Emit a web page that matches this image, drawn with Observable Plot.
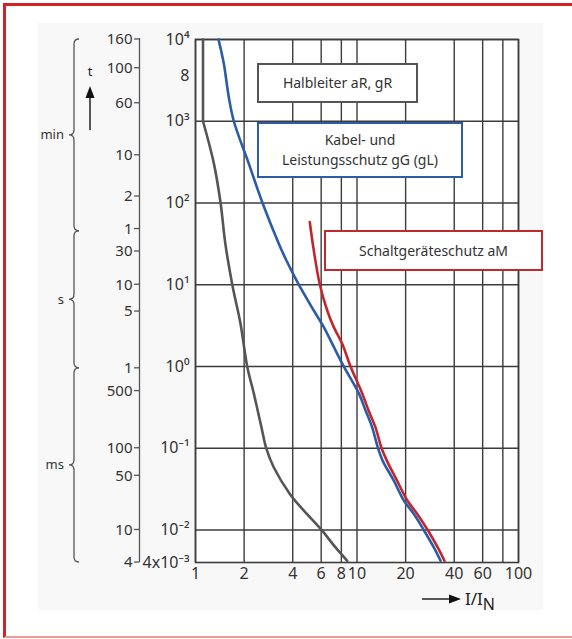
<!DOCTYPE html>
<html><head><meta charset="utf-8">
<script src="https://cdn.jsdelivr.net/npm/d3@7"></script>
<script src="https://cdn.jsdelivr.net/npm/@observablehq/plot@0.6"></script>
<style>
body{margin:0;background:#fff;font-family:"Noto Sans",sans-serif;}
#wrap{position:relative;width:572px;height:639px;overflow:hidden;background:#fff;}
#bg{position:absolute;left:38px;top:23px;width:505px;height:587px;background:#f8f8f8;}
#chart{position:absolute;left:0;top:0;}
#frame{position:absolute;left:3px;top:3px;width:620px;height:635px;border-left:3px solid #d2232a;border-top:3px solid #d2232a;border-bottom:2px solid #f29a9a;box-sizing:border-box;pointer-events:none;}
.box{position:absolute;background:#fff;box-sizing:border-box;display:flex;align-items:center;justify-content:center;text-align:center;font-size:14px;color:#333;line-height:20px;font-family:"Noto Sans",sans-serif;}
</style></head>
<body><div id="wrap"><div id="bg"></div><div id="chart"></div>
<div class="box" style="left:257px;top:63px;width:161px;height:40px;border:2.6px solid #555;">Halbleiter aR, gR</div>
<div class="box" style="left:257px;top:122px;width:206px;height:56px;border:2.6px solid #2b5ca8;">Kabel- und<br>Leistungsschutz gG (gL)</div>
<div class="box" style="left:324px;top:230px;width:219px;height:41px;border:2.6px solid #c1272d;">Schaltgeräteschutz aM</div>
<div id="frame"></div></div>
<script>
// Halbleiter aR, gR (grey): vertical part, then the sloped part
const grayTopX = [1.113, 1.113];
const grayTopT = [1e4, 1e3];
const grayX = [1.113, 1.30, 1.43, 1.53, 1.69, 1.90, 2.09, 2.30, 2.56, 2.74, 3.05, 3.84, 4.69, 6.03, 7.36, 8.70];
const grayT = [1e3, 303, 100, 31.8, 10, 3.33, 1, 0.462, 0.181, 0.1, 0.0585, 0.0276, 0.0172, 0.01, 0.00612, 0.0042];
// Kabel- und Leistungsschutz gG (gL) (blue)
const blueX = [1.388, 1.497, 1.607, 1.727, 2.138, 2.60, 3.28, 3.65, 4.36, 5.40, 6.23, 7.02, 8.28, 10.3, 11.3, 12.4, 13.5, 14.4, 16.9, 19.5, 22.5, 25.9, 29.9, 32.9];
const blueT = [1e4, 5080, 1982, 1e3, 303, 100, 31.8, 19.9, 10, 4.84, 3.03, 1.90, 1, 0.462, 0.289, 0.181, 0.1, 0.0706, 0.0402, 0.0229, 0.0157, 0.01, 0.00612, 0.0042];
// Schaltgeräteschutz aM (red)
const redX = [5.10, 5.40, 5.89, 6.54, 7.18, 8.10, 9.12, 10.8, 11.8, 13.0, 14.2, 15.3, 17.7, 20.5, 23.6, 27.4, 31.6, 34.8];
const redT = [58.5, 26.3, 10, 4.84, 3.03, 1.90, 1, 0.462, 0.289, 0.181, 0.1, 0.0706, 0.0402, 0.0229, 0.0157, 0.01, 0.00612, 0.0042];

// axes
const xTicks = [1, 2, 4, 6, 8, 10, 20, 40, 60, 100];
const xGrid = [1, 2, 4, 6, 8, 10, 20, 40, 60, 80, 100];
const yGrid = [1e4, 1e3, 1e2, 1e1, 1, 0.1, 0.01];
const yTicks = [1e4, 3600, 1e3, 1e2, 1e1, 1, 0.1, 0.01, 0.004];
const yTickLabels = ["10⁴", "8", "10³", "10²", "10¹", "10⁰", "10⁻¹", "10⁻²", "4x10⁻³"];
// outer time axis (positions in seconds as printed on the original)
const tTicks = [1e4, 4455, 1660, 383, 120, 48, 25.5, 10, 4.7, 0.95, 0.5, 0.1, 0.046, 0.01, 0.004];
const tTickLabels = ["160", "100", "60", "10", "2", "1", "30", "10", "5", "1", "500", "100", "50", "10", "4"];
const unitNames = ["min", "s", "ms"];
const unitBounds = [[1e4, 45], [45, 0.95], [0.95, 0.004]];

const toRows = (xs, ts, z) => xs.map((x, i) => ({x, t: ts[i], z}));
const yLab = new Map(yTicks.map((v, i) => [v, yTickLabels[i]]));
const tLab = new Map(tTicks.map((v, i) => [v, tTickLabels[i]]));

const plot = Plot.plot({
  width: 572, height: 639,
  marginLeft: 195, marginRight: 54, marginTop: 39, marginBottom: 77,
  style: {background: "transparent", fontFamily: "Noto Sans", fontSize: "16px", color: "#333", overflow: "visible"},
  x: {type: "log", domain: [1, 100], axis: null},
  y: {type: "log", domain: [0.004, 1e4], axis: null},
  marks: [
    Plot.frame({fill: "white", stroke: null}),
    Plot.ruleX(xGrid, {stroke: "#3c3c3c", strokeWidth: 1.4}),
    Plot.ruleY(yGrid, {stroke: "#3c3c3c", strokeWidth: 1.4}),
    Plot.frame({stroke: "#3c3c3c", strokeWidth: 1.6}),
    Plot.line([...toRows(grayTopX, grayTopT, "a"), ...toRows(grayX, grayT, "b")], {x: "x", y: "t", z: "z", stroke: "#555", strokeWidth: 2.6, curve: "catmull-rom"}),
    Plot.line(toRows(blueX, blueT), {x: "x", y: "t", stroke: "#2b5ca8", strokeWidth: 2.6, curve: "catmull-rom"}),
    Plot.line(toRows(redX, redT), {x: "x", y: "t", stroke: "#c1272d", strokeWidth: 2.6, curve: "catmull-rom"}),
    Plot.text(xTicks, {x: d => d, frameAnchor: "bottom", dy: 16, text: d => String(d), fill: "#333", fontSize: 16}),
    Plot.text(yTicks, {y: d => d, frameAnchor: "left", textAnchor: "end", dx: -6, text: d => yLab.get(d), fill: "#333", fontSize: 16}),
    Plot.text(tTicks, {y: d => d, frameAnchor: "left", textAnchor: "end", dx: -63, text: d => tLab.get(d), fill: "#333", fontSize: 15})
  ]
});
document.getElementById("chart").appendChild(plot);

// decorations using the chart's y scale
const ys = plot.scale("y");
const Y = v => ys.apply(v);
const svg = d3.select(plot);
const g = svg.append("g").attr("fill", "none").attr("stroke", "#555").attr("stroke-width", 1.3);
g.append("line").attr("x1", 139.5).attr("x2", 139.5).attr("y1", Y(1e4) - 1).attr("y2", Y(0.004));
tTicks.forEach(v => g.append("line").attr("x1", 134).attr("x2", 139.5).attr("y1", Y(v)).attr("y2", Y(v)));
unitBounds.forEach(([a, b], i) => {
  const y1 = Y(a), y2 = Y(b), ym = (y1 + y2) / 2;
  const x = 74, r = 5;
  g.append("path").attr("d",
    `M${x + 5},${y1} Q${x},${y1} ${x},${y1 + r} L${x},${ym - r} Q${x},${ym} ${x - 5},${ym} Q${x},${ym} ${x},${ym + r} L${x},${y2 - r} Q${x},${y2} ${x + 5},${y2}`);
  svg.append("text").attr("x", 64).attr("y", ym).attr("dy", "0.35em").attr("text-anchor", "end")
    .attr("font-size", 13).attr("fill", "#333").attr("font-family", "Noto Sans").text(unitNames[i]);
});
// t arrow
svg.append("text").attr("x", 90).attr("y", 76).attr("text-anchor", "middle").attr("font-size", 13)
  .attr("fill", "#222").attr("font-family", "Noto Sans").text("t");
svg.append("line").attr("x1", 90).attr("x2", 90).attr("y1", 130).attr("y2", 95).attr("stroke", "#222").attr("stroke-width", 1.5);
svg.append("path").attr("d", "M90,86 L85.5,98 L94.5,98 Z").attr("fill", "#111");
// I/IN label
svg.append("line").attr("x1", 422).attr("x2", 452).attr("y1", 599).attr("y2", 599).attr("stroke", "#222").attr("stroke-width", 1.5);
svg.append("path").attr("d", "M461,599 L449,594.5 L449,603.5 Z").attr("fill", "#111");
const lab = svg.append("text").attr("x", 465).attr("y", 605).attr("text-anchor", "start").attr("font-size", 17).attr("fill", "#222").attr("font-family", "Noto Sans");
lab.append("tspan").text("I/I");
lab.append("tspan").attr("dy", 5).attr("font-size", 16).text("N");
</script>
</body></html>
